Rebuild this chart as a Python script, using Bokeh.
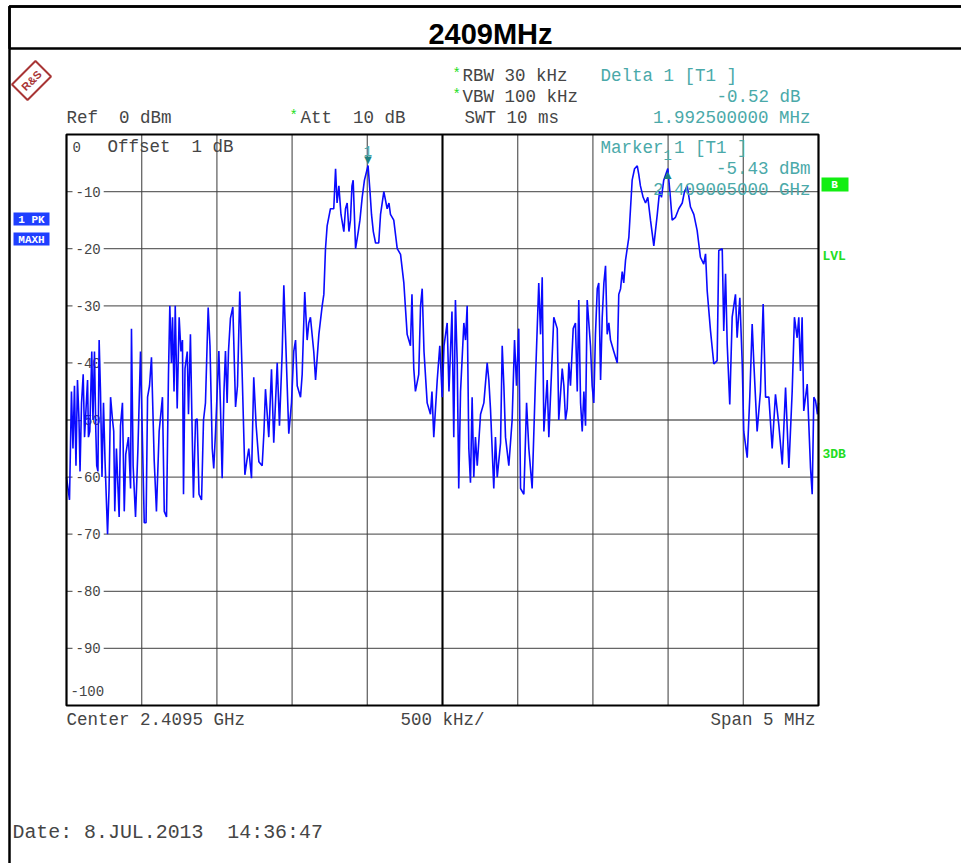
import math
from bokeh.plotting import figure
from bokeh.models import Label, BoxAnnotation, Range1d
from bokeh.core.properties import value
from bokeh.embed import file_html
from bokeh.resources import INLINE

# ---------------- data ----------------
START_MHZ = 2407.0
STOP_MHZ = 2412.0
CENTER_MHZ = 2409.5
REF_LEVEL = 0
BOTTOM_LEVEL = -100

freq_offset_mhz = [
    0.000, 0.010, 0.020, 0.033, 0.043, 0.053, 0.063, 0.073, 0.083, 0.090,
    0.100, 0.111, 0.120, 0.130, 0.140, 0.146, 0.155, 0.168, 0.176, 0.186,
    0.195, 0.201, 0.209, 0.217, 0.226, 0.236, 0.246, 0.256, 0.273, 0.283,
    0.293, 0.306, 0.314, 0.321, 0.332, 0.350, 0.359, 0.372, 0.384, 0.394,
    0.412, 0.426, 0.432, 0.443, 0.459, 0.475, 0.492, 0.502, 0.517, 0.529,
    0.539, 0.552, 0.565, 0.583, 0.598, 0.616, 0.638, 0.650, 0.665, 0.678,
    0.687, 0.698, 0.705, 0.715, 0.723, 0.736, 0.749, 0.761, 0.771, 0.778,
    0.788, 0.803, 0.811, 0.824, 0.834, 0.844, 0.858, 0.869, 0.881, 0.898,
    0.911, 0.924, 0.942, 0.954, 0.969, 0.979, 0.991, 1.013, 1.024, 1.035,
    1.047, 1.057, 1.068, 1.077, 1.090, 1.106, 1.124, 1.137, 1.152, 1.168,
    1.186, 1.200, 1.212, 1.230, 1.245, 1.261, 1.279, 1.301, 1.313, 1.323,
    1.345, 1.363, 1.378, 1.401, 1.416, 1.434, 1.445, 1.456, 1.478, 1.496,
    1.511, 1.523, 1.534, 1.556, 1.567, 1.584, 1.600, 1.611, 1.622, 1.644,
    1.656, 1.678, 1.700, 1.711, 1.722, 1.733, 1.755, 1.777, 1.789, 1.799,
    1.811, 1.825, 1.844, 1.855, 1.866, 1.878, 1.888, 1.898, 1.906, 1.922,
    1.940, 1.951, 1.966, 1.981, 2.005, 2.018, 2.028, 2.040, 2.055, 2.076,
    2.088, 2.110, 2.132, 2.144, 2.154, 2.176, 2.199, 2.221, 2.243, 2.265,
    2.287, 2.297, 2.309, 2.320, 2.342, 2.354, 2.365, 2.377, 2.398, 2.420,
    2.430, 2.442, 2.465, 2.482, 2.498, 2.510, 2.531, 2.543, 2.553, 2.563,
    2.575, 2.586, 2.598, 2.608, 2.620, 2.642, 2.653, 2.664, 2.675, 2.686,
    2.697, 2.708, 2.719, 2.731, 2.753, 2.775, 2.797, 2.808, 2.819, 2.841,
    2.852, 2.864, 2.886, 2.897, 2.908, 2.919, 2.941, 2.963, 2.979, 2.992,
    3.007, 3.019, 3.041, 3.059, 3.074, 3.096, 3.118, 3.140, 3.152, 3.163,
    3.174, 3.196, 3.207, 3.240, 3.263, 3.273, 3.296, 3.307, 3.318, 3.329,
    3.340, 3.351, 3.369, 3.384, 3.396, 3.406, 3.418, 3.429, 3.440, 3.451,
    3.462, 3.484, 3.495, 3.506, 3.517, 3.529, 3.539, 3.551, 3.562, 3.573,
    3.584, 3.595, 3.606, 3.617, 3.639, 3.662, 3.672, 3.684, 3.695, 3.705,
    3.717, 3.728, 3.739, 3.750, 3.761, 3.777, 3.795, 3.805, 3.816, 3.834,
    3.850, 3.865, 3.883, 3.905, 3.928, 3.943, 3.956, 3.971, 3.998, 4.012,
    4.027, 4.049, 4.071, 4.094, 4.109, 4.127, 4.149, 4.171, 4.193, 4.215,
    4.237, 4.249, 4.260, 4.282, 4.304, 4.326, 4.337, 4.360, 4.370, 4.382,
    4.393, 4.410, 4.426, 4.448, 4.459, 4.477, 4.493, 4.503, 4.526, 4.543,
    4.559, 4.570, 4.592, 4.614, 4.632, 4.648, 4.670, 4.692, 4.714, 4.736,
    4.759, 4.781, 4.803, 4.825, 4.840, 4.858, 4.869, 4.880, 4.891, 4.902,
    4.925, 4.947, 4.958, 4.969, 4.980, 4.993, 5.000,
]

level_dbm = [
    -60, -62, -64, -45, -55, -44, -58, -43, -50, -59,
    -47, -42, -53, -48, -43, -53, -52, -38, -50, -38,
    -52, -58, -59, -36, -45, -60, -47, -57, -70, -62,
    -46, -50, -52, -66, -55, -67, -51, -47, -66, -56,
    -53, -62, -34, -58, -67, -55, -38, -50, -68, -68,
    -46, -44, -39, -57, -66, -52, -46, -66, -67, -42,
    -30, -40, -32, -45, -30, -48, -32, -38, -36, -63,
    -41, -38, -49, -35, -50, -63.6, -50, -49.8, -63, -64,
    -50, -47, -30.3, -37, -55, -58.5, -52, -37.9, -48, -60.2,
    -45, -37.9, -47, -38, -32.2, -30.2, -47.7, -44, -27.5, -42,
    -59.6, -57, -55, -60.2, -42.5, -51, -57.3, -58, -52, -44.6,
    -53, -41.1, -54, -40, -51, -38.2, -26.4, -35, -52.4, -47,
    -38, -36, -44, -46, -42, -27.6, -36, -33, -32, -38,
    -43, -35, -30, -28, -20, -16, -13, -13, -6, -12,
    -9, -14, -17, -13, -12, -17, -15, -9, -8, -20,
    -17, -15, -11, -8, -5.43, -10, -14, -17, -19, -19,
    -14, -10, -13, -12, -14, -15, -20, -21, -26, -35,
    -37, -28, -41, -45, -42, -30, -27, -38, -47, -49,
    -45, -53, -43, -37, -46, -37, -33, -45, -38, -31,
    -53, -29, -40, -62, -45, -33, -36, -30, -55, -61,
    -46, -60, -53, -58, -49, -47, -40, -43, -48, -62,
    -53, -60, -54, -37, -44, -53, -58, -50, -36, -44,
    -34, -62, -63, -47, -55, -62, -43, -26, -35, -25,
    -52, -43, -53, -32, -34, -50, -41, -44, -50, -48,
    -40, -44, -34, -33, -45, -29, -47, -52, -45, -51,
    -29, -37, -44, -47, -35, -27, -26, -43, -32, -26,
    -23, -35, -33, -36, -38, -40, -28, -27, -24, -26,
    -22, -20, -18, -13, -8, -6, -5.5, -7, -9, -11,
    -12, -11, -15, -19.5, -14, -10, -11, -8, -5.95, -10,
    -15, -14.5, -13, -12, -10, -9, -12.7, -14, -16.8, -21.5,
    -22.7, -20.9, -27.4, -34.4, -40.2, -39.6, -20.3, -20, -34.4, -24.4,
    -36.7, -47.3, -32, -28, -35.6, -28.6, -40.2, -52, -56.6, -46,
    -33.2, -40, -52, -45, -29.7, -46, -46, -55, -45.5, -50.8,
    -57.8, -44.3, -58.4, -45, -32, -35.6, -32, -41.4, -32, -48.4,
    -43.7, -58.4, -63, -46, -46.6, -49, -47,
]

marker1_freq_mhz = 2409.005
marker1_level_dbm = -5.43
delta1_offset_mhz = 1.9925
delta1_offset_db = -0.52

ytick_levels = [0, -10, -20, -30, -40, -50, -60, -70, -80, -90, -100]
ytick_labels = ["0", "-10", "-20", "-30", "-40", "-50", "-60", "-70", "-80", "-90", "-100"]
xgrid_mhz = [2407.5, 2408.0, 2408.5, 2409.0, 2409.5, 2410.0, 2410.5, 2411.0, 2411.5]

freqs = [START_MHZ + f for f in freq_offset_mhz]
delta1_freq = marker1_freq_mhz + delta1_offset_mhz
delta1_level = marker1_level_dbm + delta1_offset_db

# ---------------- layout (page pixels) ----------------
W, H = 961, 863
GL, GR, GT, GB = 66, 818, 134, 705     # grid box edges
px_per_mhz = (GR - GL) / (STOP_MHZ - START_MHZ)
px_per_db = (GB - GT) / (REF_LEVEL - BOTTOM_LEVEL)
x_range = Range1d(START_MHZ - GL / px_per_mhz, STOP_MHZ + (W - GR) / px_per_mhz)
y_range = Range1d(BOTTOM_LEVEL - (H - GB) / px_per_db, REF_LEVEL + GT / px_per_db)

p = figure(width=W, height=H, x_range=x_range, y_range=y_range,
           output_backend="svg", toolbar_location=None,
           x_axis_location=None, y_axis_location=None, min_border=0)
p.min_border_left = p.min_border_right = p.min_border_top = p.min_border_bottom = 0
p.grid.visible = False
p.background_fill_color = "white"
p.border_fill_color = "white"
p.outline_line_color = None

MONO = value("Liberation Mono")
GRAY = "#454545"
TEAL = "#4aa9a9"
GREEN = "#22dd22"
GRID_COL = "#404040"

# grid lines inside the measurement box
n_x = len(xgrid_mhz)
p.segment(x0=xgrid_mhz, x1=xgrid_mhz, y0=[BOTTOM_LEVEL] * n_x, y1=[REF_LEVEL] * n_x,
          line_color=GRID_COL, line_width=1.3, line_alpha=0.8)
mid_levels = ytick_levels[1:-1]
mid_labels = ytick_labels[1:-1]
n_y = len(mid_levels)
p.segment(x0=[START_MHZ] * n_y, x1=[STOP_MHZ] * n_y, y0=mid_levels, y1=mid_levels,
          line_color=GRID_COL, line_width=1.3, line_alpha=0.8)
p.segment(x0=[CENTER_MHZ], x1=[CENTER_MHZ], y0=[BOTTOM_LEVEL], y1=[REF_LEVEL],
          line_color="black", line_width=2)
p.add_layout(BoxAnnotation(left=START_MHZ, right=STOP_MHZ, bottom=BOTTOM_LEVEL, top=REF_LEVEL,
                           fill_alpha=0, line_color="black", line_alpha=1, line_width=2.2))

# y tick labels inside the box
p.text(x=[START_MHZ] * n_y, y=mid_levels, text=mid_labels,
       x_offset=6, text_align="left", text_baseline="middle",
       text_font=MONO, text_font_size="14px", text_color=GRAY,
       background_fill_color="white", padding=3)
p.text(x=[START_MHZ], y=[ytick_levels[0]], text=[ytick_labels[0]], x_offset=6, y_offset=12,
       text_align="left", text_baseline="middle", text_font=MONO, text_font_size="14px",
       text_color=GRAY)
p.text(x=[START_MHZ], y=[ytick_levels[-1]], text=[ytick_labels[-1]], x_offset=4, y_offset=-15,
       text_align="left", text_baseline="middle", text_font=MONO, text_font_size="14px",
       text_color=GRAY)

# trace
p.line(freqs, level_dbm, line_color="#0a0aff", line_width=1.6)

# markers
p.text(x=[marker1_freq_mhz], y=[marker1_level_dbm], text=["\u25bc"], text_align="center",
       text_baseline="bottom", text_color="#1c8080", text_font_size="13px", y_offset=1)
p.text(x=[marker1_freq_mhz], y=[marker1_level_dbm], text=["1"], text_align="center",
       text_baseline="bottom", text_color=TEAL, text_font=MONO, text_font_size="14px", y_offset=-10)
p.text(x=[delta1_freq], y=[delta1_level], text=["\u25b2"], text_align="center",
       text_baseline="top", text_color="#1c8080", text_font_size="13px", y_offset=-1)
p.text(x=[delta1_freq], y=[delta1_level], text=["1"], text_align="center",
       text_baseline="bottom", text_color=TEAL, text_font=MONO, text_font_size="14px", y_offset=-8)


def sp(s):
    return s.replace("  ", " \u00a0")


def lab(px, py, text, color=GRAY, size=17.5, align="left", font="Liberation Mono",
        style="normal", angle=0.0, **kw):
    p.add_layout(Label(x=px, y=H - py, x_units="screen", y_units="screen",
                       text=sp(text), text_color=color, text_font_size=f"{size}px",
                       text_font=font, text_font_style=style, text_align=align,
                       text_baseline="middle", angle=angle, **kw))


def box(x0, y0, x1, y1, fill=None, line=None, lw=1):
    p.add_layout(BoxAnnotation(left=x0, right=x1, top=H - y0, bottom=H - y1,
                               left_units="screen", right_units="screen",
                               top_units="screen", bottom_units="screen",
                               fill_color=fill, fill_alpha=1 if fill else 0,
                               line_color=line, line_alpha=1 if line else 0, line_width=lw))


# outer frame and title box
box(9, 6, 975, 900, line="black", lw=2.5)
box(9, 6, 975, 48, line="black", lw=2.5)
lab(490, 33, "2409MHz", color="black", size=29, align="center", font="Liberation Sans", style="bold")

# R&S logo
lab(31, 80, "R&S", color="#a83535", size=11, align="center", font="Liberation Sans",
    style="bold", angle=math.pi / 4, border_line_color="#a83535", border_line_width=2,
    padding=5)

# header texts
lab(452, 73, "*", color=GREEN, size=14)
lab(462, 75, "RBW 30 kHz")
lab(452, 94, "*", color=GREEN, size=14)
lab(462, 96, "VBW 100 kHz")
lab(464, 117, "SWT 10 ms")
lab(66, 117, "Ref  0 dBm")
lab(289, 115, "*", color=GREEN, size=14)
lab(300, 117, "Att  10 dB")
lab(600, 75, "Delta 1 [T1 ]", color=TEAL)
lab(800, 96, "-0.52 dB", color=TEAL, align="right")
lab(810, 117, "1.992500000 MHz", color=TEAL, align="right")
lab(600, 147, "Marker 1 [T1 ]", color=TEAL)
lab(810, 168, "-5.43 dBm", color=TEAL, align="right")
lab(810, 189, "2.409005000 GHz", color=TEAL, align="right")
lab(107, 146, "Offset  1 dB")

# left blue trace labels
box(13, 212, 49, 225, fill="#1f3fff")
box(13, 232, 49, 245, fill="#1f3fff")
lab(31, 219, "1 PK", color="white", size=11, align="center", style="bold")
lab(31, 239, "MAXH", color="white", size=11, align="center", style="bold")

# right side green labels
box(821, 177, 848, 191, fill="#11ee11")
lab(834, 184, "B", color="white", size=11, align="center", style="bold")
lab(822, 256, "LVL", color=GREEN, size=13, style="bold")
lab(822, 454, "3DB", color=GREEN, size=13, style="bold")

# footer texts
lab(66, 719, "Center 2.4095 GHz")
lab(400, 719, "500 kHz/")
lab(815, 719, "Span 5 MHz", align="right")
lab(12, 832, "Date: 8.JUL.2013  14:36:47", size=19.9)

open("out.html", "w").write(file_html(p, INLINE))
